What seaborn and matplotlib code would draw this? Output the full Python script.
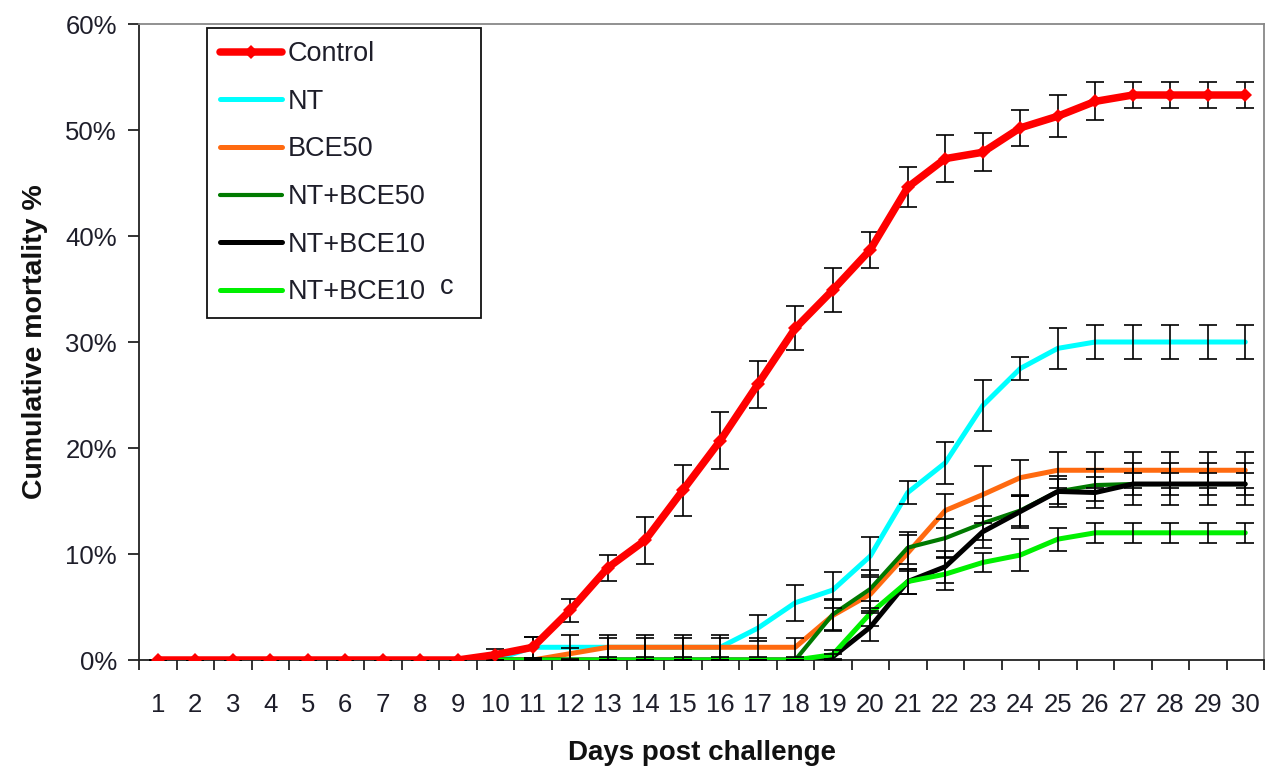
import numpy as np
import pandas as pd
import matplotlib
matplotlib.use("Agg")
import matplotlib.pyplot as plt
import seaborn as sns
from matplotlib.ticker import FixedLocator, FuncFormatter

# ---------------- data ----------------
days = list(range(1, 31))

control = [0, 0, 0, 0, 0, 0, 0, 0, 0, 0.5, 1.2, 4.7, 8.7, 11.3, 16.0, 20.7, 26.0, 31.3,
           34.9, 38.7, 44.6, 47.3, 47.9, 50.2, 51.3, 52.7, 53.3, 53.3, 53.3, 53.3]
control_err = [0, 0, 0, 0, 0, 0, 0, 0, 0, 0.5, 1.0, 1.1, 1.2, 2.2, 2.4, 2.7, 2.2, 2.1,
               2.1, 1.7, 1.9, 2.2, 1.8, 1.7, 2.0, 1.8, 1.2, 1.2, 1.2, 1.2]

nt = [0, 0, 0, 0, 0, 0, 0, 0, 0, 0, 1.2, 1.2, 1.2, 1.2, 1.2, 1.2, 3.0, 5.4,
      6.6, 9.8, 15.8, 18.6, 24.0, 27.5, 29.4, 30.0, 30.0, 30.0, 30.0, 30.0]
nt_err = [0, 0, 0, 0, 0, 0, 0, 0, 0, 0, 1.0, 1.2, 1.2, 1.2, 1.2, 1.2, 1.2, 1.7,
          1.7, 1.8, 1.1, 2.0, 2.4, 1.1, 1.9, 1.6, 1.6, 1.6, 1.6, 1.6]

bce50 = [0, 0, 0, 0, 0, 0, 0, 0, 0, 0, 0, 0.6, 1.2, 1.2, 1.2, 1.2, 1.2, 1.2,
         4.2, 6.2, 10.1, 14.1, 15.6, 17.2, 17.9, 17.9, 17.9, 17.9, 17.9, 17.9]
bce50_err = [0, 0, 0, 0, 0, 0, 0, 0, 0, 0, 0, 0.5, 0.9, 0.9, 0.9, 0.9, 0.9, 0.9,
             1.5, 1.6, 1.7, 1.6, 2.7, 1.7, 1.7, 1.7, 1.7, 1.7, 1.7, 1.7]

nt_bce50 = [0, 0, 0, 0, 0, 0, 0, 0, 0, 0, 0, 0, 0, 0, 0, 0, 0, 0,
            4.3, 6.7, 10.6, 11.5, 12.9, 14.1, 15.9, 16.5, 16.6, 16.6, 16.6, 16.6]
nt_bce50_err = [0, 0, 0, 0, 0, 0, 0, 0, 0, 0, 0, 0, 0, 0, 0, 0, 0, 0,
                1.5, 1.8, 1.5, 1.8, 1.6, 1.5, 1.5, 1.5, 1.0, 1.0, 1.0, 1.0]

nt_bce10 = [0, 0, 0, 0, 0, 0, 0, 0, 0, 0, 0, 0, 0, 0, 0, 0, 0, 0,
            0.3, 3.1, 7.4, 8.8, 12.1, 14.0, 15.9, 15.8, 16.6, 16.6, 16.6, 16.6]
nt_bce10_err = [0, 0, 0, 0, 0, 0, 0, 0, 0, 0, 0, 0, 0, 0, 0, 0, 0, 0,
                0.3, 1.3, 1.2, 1.5, 1.5, 1.5, 1.2, 1.5, 2.0, 2.0, 2.0, 2.0]

nt_bce10c = [0, 0, 0, 0, 0, 0, 0, 0, 0, 0, 0, 0, 0, 0, 0, 0, 0, 0,
             0.5, 4.4, 7.4, 8.1, 9.2, 9.9, 11.4, 12.0, 12.0, 12.0, 12.0, 12.0]
nt_bce10c_err = [0, 0, 0, 0, 0, 0, 0, 0, 0, 0, 0, 0, 0, 0, 0, 0, 0, 0,
                 0.4, 1.2, 1.2, 1.5, 0.9, 1.5, 1.1, 0.95, 0.95, 0.95, 0.95, 0.95]

series_names = ["Control", "NT", "BCE50", "NT+BCE50", "NT+BCE10", "NT+BCE10 c"]
legend_labels = ["Control", "NT", "BCE50", "NT+BCE50", "NT+BCE10", "NT+BCE10"]
legend_suffix = "c"
series_vals = [control, nt, bce50, nt_bce50, nt_bce10, nt_bce10c]
series_errs = [control_err, nt_err, bce50_err, nt_bce50_err, nt_bce10_err, nt_bce10c_err]

yticks = [0, 10, 20, 30, 40, 50, 60]

# ---------------- style ----------------
sns.set_theme(style="white")
plt.rcParams["font.family"] = ["Liberation Sans", "DejaVu Sans"]

colors = ["#FF0000", "#00FFFF", "#FF6A10", "#007A00", "#000000", "#00F000"]
widths = [5.4, 3.6, 3.6, 3.0, 3.6, 3.6]
zorders = [6, 3, 3, 3, 3, 3]

fig = plt.figure(figsize=(12.66, 7.70), dpi=100)
ax = fig.add_axes([139 / 1266, 110 / 770, 1125 / 1266, 636 / 770])

rows = []
for name, vals in zip(series_names, series_vals):
    for d, v in zip(days, vals):
        rows.append({"day": d, "value": v, "series": name})
df = pd.DataFrame(rows)

for name, lab, vals, errs, c, lw, z in zip(series_names, legend_labels, series_vals,
                                           series_errs, colors, widths, zorders):
    sub = df[df["series"] == name]
    kw = {}
    if name == "Control":
        kw = dict(marker="D", markersize=7, markeredgewidth=0, markerfacecolor=c)
    sns.lineplot(data=sub, x="day", y="value", color=c, lw=lw, ax=ax,
                 label=lab, zorder=z, estimator=None, **kw)
    ax.errorbar(days, vals, yerr=errs, fmt="none", ecolor="black", elinewidth=1.2,
                capsize=6.5, capthick=1.2, zorder=5)

# ---------------- axes ----------------
ax.set_xlim(0.5, 30.5)
ax.set_ylim(0, 60)
ax.xaxis.set_major_locator(FixedLocator(days))
ax.xaxis.set_minor_locator(FixedLocator([d + 0.5 for d in range(0, 31)]))
ax.yaxis.set_major_locator(FixedLocator(yticks))
ax.yaxis.set_major_formatter(FuncFormatter(lambda v, p: f"{int(v)}%"))

ax.tick_params(axis="x", which="major", length=0, pad=24, labelsize=18.5, labelcolor="#1e1e2a")
ax.tick_params(axis="x", which="minor", length=7, width=1.3, direction="out", color="#222222", bottom=True)
ax.tick_params(axis="y", which="major", length=8, width=1.3, direction="out", pad=8,
               labelsize=18.5, labelcolor="#1e1e2a", color="#222222", left=True)

for s in ["left", "bottom"]:
    ax.spines[s].set_color("#222222")
    ax.spines[s].set_linewidth(1.3)
for s in ["top", "right"]:
    ax.spines[s].set_visible(True)
    ax.spines[s].set_color("#888888")
    ax.spines[s].set_linewidth(1.3)

ax.set_xlabel("Days post challenge", fontsize=20, fontweight="bold", labelpad=16, color="#111111")
ax.set_ylabel("Cumulative mortality %", fontsize=20.5, fontweight="bold", labelpad=12, color="#111111")

# legend box spans x 207..481 px, top at 28 px (expanded to that width)
leg_x0 = (207 - 139) / 1125
leg_w = (481 - 207) / 1125
leg_top = (660 - 28) / 636
leg = ax.legend(loc="upper left", bbox_to_anchor=(leg_x0, leg_top - 0.5, leg_w, 0.5),
                mode="expand", borderaxespad=0,
                fontsize=19.5, frameon=True, fancybox=False, framealpha=1,
                edgecolor="#111111", handlelength=2.3, handletextpad=0.2,
                labelspacing=0.8, borderpad=0.48)
leg.get_frame().set_linewidth(1.3)
for t in leg.get_texts():
    t.set_color("#1e1e2a")

# raised "c" after the last legend label
fig.canvas.draw()
last = leg.get_texts()[-1]
bb = last.get_window_extent(fig.canvas.get_renderer())
inv = fig.transFigure.inverted()
cx, cy = inv.transform((bb.x0 + 152, bb.y0 + 11))
fig.text(cx, cy, legend_suffix, fontsize=19.5, color="#1e1e2a", ha="left", va="baseline", zorder=10)

fig.savefig("out.png", dpi=100)
